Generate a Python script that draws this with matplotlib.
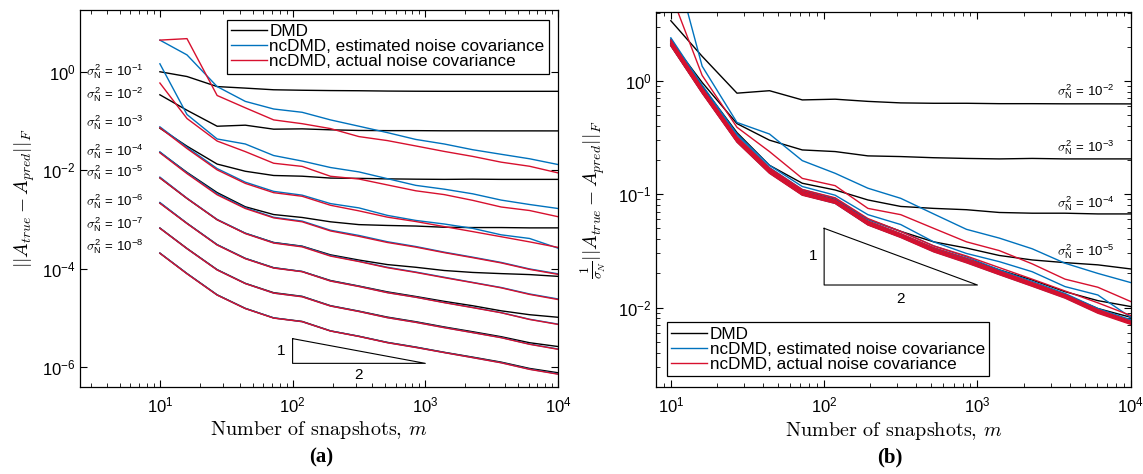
import numpy as np
import matplotlib
matplotlib.use('Agg')
import matplotlib.pyplot as plt
from matplotlib.ticker import NullLocator, LogLocator, NullFormatter

plt.rcParams['font.family'] = ['Liberation Sans', 'DejaVu Sans']
plt.rcParams['mathtext.fontset'] = 'cm'

# ---------------- data ----------------
snapshots = [10, 16, 27, 44, 72, 118, 193, 316, 518, 848, 1389, 2276, 3728, 6105, 10000]
noise_exponents = [-1, -2, -3, -4, -5, -6, -7, -8]   # sigma_N^2 = 10^k

# normalized errors  (1/sigma_N) ||A_true - A_pred||_F
dmd_1 = [3.16, 2.53, 1.58, 1.47, 1.36, 1.33, 1.31, 1.30, 1.28, 1.27, 1.265, 1.265, 1.265, 1.265, 1.265]
est_1 = [13.9, 6.96, 1.58, 0.79, 0.553, 0.474, 0.332, 0.247, 0.183, 0.133, 0.1075, 0.0822, 0.0664, 0.0538, 0.0411]
act_1 = [13.9, 14.9, 1.04, 0.585, 0.332, 0.278, 0.221, 0.152, 0.126, 0.098, 0.0759, 0.0601, 0.0459, 0.0379, 0.0278]

dmd_2 = [3.4, 1.65, 0.78, 0.82, 0.68, 0.69, 0.66, 0.64, 0.635, 0.635, 0.63, 0.63, 0.628, 0.628, 0.627]
est_2 = [14.5, 1.35, 0.43, 0.34, 0.198, 0.153, 0.113, 0.092, 0.067, 0.049, 0.041, 0.033, 0.0246, 0.020, 0.0166]
act_2 = [5.9, 1.12, 0.39, 0.238, 0.138, 0.119, 0.075, 0.066, 0.050, 0.038, 0.0318, 0.0243, 0.0178, 0.0151, 0.0113]

dmd_3 = [2.25, 0.97, 0.42, 0.30, 0.246, 0.238, 0.218, 0.215, 0.21, 0.207, 0.205, 0.207, 0.205, 0.205, 0.205]
est_3 = [2.4, 0.92, 0.34, 0.18, 0.117, 0.098, 0.066, 0.054, 0.038, 0.030, 0.0254, 0.0207, 0.0153, 0.0129, 0.0082]
act_3 = [2.3, 0.87, 0.32, 0.17, 0.11, 0.093, 0.061, 0.047, 0.035, 0.0285, 0.0225, 0.0178, 0.014, 0.011, 0.0085]

dmd_4 = [2.3, 0.9, 0.35, 0.18, 0.125, 0.109, 0.089, 0.078, 0.075, 0.073, 0.069, 0.068, 0.068, 0.067, 0.067]
est_4 = [2.35, 0.88, 0.33, 0.172, 0.11, 0.092, 0.06, 0.047, 0.035, 0.028, 0.0215, 0.017, 0.0133, 0.0098, 0.0078]
act_4 = [2.25, 0.85, 0.315, 0.166, 0.107, 0.089, 0.058, 0.045, 0.0338, 0.0272, 0.021, 0.0166, 0.013, 0.0096, 0.0076]

dmd_5 = [2.2, 0.84, 0.31, 0.165, 0.107, 0.09, 0.06, 0.047, 0.038, 0.0335, 0.0288, 0.0263, 0.0249, 0.0238, 0.0219]
est_5 = [2.28, 0.85, 0.315, 0.165, 0.106, 0.089, 0.058, 0.0445, 0.0335, 0.0268, 0.021, 0.0165, 0.013, 0.0096, 0.0076]
act_5 = [2.2, 0.84, 0.31, 0.162, 0.104, 0.087, 0.0565, 0.0438, 0.0328, 0.0263, 0.0206, 0.0163, 0.0128, 0.0094, 0.0074]

dmd_6 = [2.15, 0.83, 0.305, 0.161, 0.104, 0.087, 0.057, 0.044, 0.0335, 0.027, 0.0215, 0.0175, 0.0138, 0.0115, 0.0102]
est_6 = [2.2, 0.83, 0.305, 0.16, 0.103, 0.087, 0.056, 0.0435, 0.0325, 0.0262, 0.0204, 0.0162, 0.0127, 0.0093, 0.0074]
act_6 = [2.12, 0.82, 0.3, 0.158, 0.102, 0.086, 0.0555, 0.043, 0.0322, 0.026, 0.0202, 0.016, 0.0126, 0.0092, 0.0073]

dmd_7 = [2.1, 0.81, 0.3, 0.158, 0.102, 0.086, 0.0555, 0.043, 0.0325, 0.0262, 0.0205, 0.0164, 0.013, 0.0098, 0.0082]
est_7 = [2.1, 0.8, 0.298, 0.157, 0.1, 0.085, 0.0548, 0.0425, 0.0318, 0.0256, 0.02, 0.0158, 0.0125, 0.0092, 0.0073]
act_7 = [2.08, 0.8, 0.295, 0.156, 0.1, 0.084, 0.0545, 0.0422, 0.0316, 0.0254, 0.0198, 0.0157, 0.0124, 0.0091, 0.0072]

dmd_8 = [2.05, 0.79, 0.292, 0.155, 0.099, 0.084, 0.054, 0.042, 0.0315, 0.0253, 0.0198, 0.0158, 0.0125, 0.0093, 0.0076]
est_8 = [2.06, 0.79, 0.29, 0.154, 0.099, 0.083, 0.0538, 0.0418, 0.0312, 0.025, 0.0196, 0.0155, 0.0122, 0.009, 0.0072]
act_8 = [2.04, 0.78, 0.288, 0.153, 0.098, 0.083, 0.0535, 0.0415, 0.031, 0.0248, 0.0195, 0.0154, 0.0121, 0.0089, 0.0071]

dmd_all = [dmd_1, dmd_2, dmd_3, dmd_4, dmd_5, dmd_6, dmd_7, dmd_8]
est_all = [est_1, est_2, est_3, est_4, est_5, est_6, est_7, est_8]
act_all = [act_1, act_2, act_3, act_4, act_5, act_6, act_7, act_8]

legend_labels = ['DMD', 'ncDMD, estimated noise covariance', 'ncDMD, actual noise covariance']

# label anchor positions (annotation placement)
left_label_y = [1.0, 0.34, 0.092, 0.024, 0.0089, 2.3e-3, 7.9e-4, 2.8e-4]
right_label_exps = [-2, -3, -4, -5]
right_label_y = [0.80, 0.256, 0.082, 0.031]

C_DMD = 'black'
C_EST = '#0072BD'
C_ACT = '#D7102E'
LW = 1.0

fig = plt.figure(figsize=(11.43, 4.74), dpi=100)
axL = fig.add_axes([80/1143, 1-387/474, (558-80)/1143, (387-10)/474])
axR = fig.add_axes([656/1143, 1-386.7/474, (1130.7-656)/1143, (386.7-12)/474])

def lvl_label(k):
    return r'$\sigma^{\mathdefault{2}}_{\mathdefault{N}}$ = $\mathdefault{10^{%d}}$' % k

# ---------------- left panel ----------------
hL = []
for series, col in ((dmd_all, C_DMD), (est_all, C_EST), (act_all, C_ACT)):
    for k, vals in zip(noise_exponents, series):
        s = np.sqrt(10.0 ** k)
        ln, = axL.plot(snapshots, np.array(vals) * s, color=col, lw=LW)
    hL.append(ln)
axL.set_xscale('log')
axL.set_yscale('log')
axL.set_xlim(2.5, 1e4)
axL.set_ylim(3.9e-7, 18)
axL.set_yticks([1e-6, 1e-4, 1e-2, 1e0])
axL.yaxis.set_minor_locator(NullLocator())
axL.xaxis.set_minor_locator(LogLocator(base=10, subs=np.arange(2, 10), numticks=20))
axL.xaxis.set_minor_formatter(NullFormatter())
for k, yv in zip(noise_exponents, left_label_y):
    axL.text(7.45, yv, lvl_label(k), ha='right', va='center', fontsize=9.5)
# slope triangle
tri_x = [100, 100, 1000, 100]
tri_y = [3.75e-6, 1.18e-6, 1.18e-6, 3.75e-6]
axL.plot(tri_x, tri_y, color='black', lw=0.8)
axL.text(88, 2.1e-6, '1', ha='right', va='center', fontsize=11)
axL.text(316, 0.95e-6, '2', ha='center', va='top', fontsize=11)
axL.set_ylabel(r'$||A_{true} - A_{pred}||_F$', fontsize=14)
axL.yaxis.set_label_coords(-0.09, 0.5)
axL.set_xlabel('Number of snapshots, $m$', fontsize=14.5, fontfamily='cmr10')
axL.xaxis.set_label_coords(0.5, -0.086)
legL = axL.legend(hL, legend_labels, loc='upper right', bbox_to_anchor=(0.981, 0.973),
                  borderaxespad=0, fontsize=12.3, fancybox=False, edgecolor='black',
                  framealpha=1, labelspacing=0.0, handlelength=2.1, handletextpad=0.15,
                  borderpad=0.25)
legL.get_frame().set_linewidth(0.9)

# ---------------- right panel ----------------
hR = []
for series, col in ((dmd_all, C_DMD), (est_all, C_EST), (act_all, C_ACT)):
    for k, vals in zip(noise_exponents[1:], series[1:]):
        ln, = axR.plot(snapshots, vals, color=col, lw=LW)
    hR.append(ln)
axR.set_xscale('log')
axR.set_yscale('log')
axR.set_xlim(8.0, 1e4)
axR.set_ylim(0.002, 4.06)
axR.set_yticks([1e-2, 1e-1, 1e0])
axR.yaxis.set_minor_locator(LogLocator(base=10, subs=np.arange(2, 10), numticks=20))
axR.yaxis.set_minor_formatter(NullFormatter())
axR.xaxis.set_minor_locator(LogLocator(base=10, subs=np.arange(2, 10), numticks=20))
axR.xaxis.set_minor_formatter(NullFormatter())
for k, yv in zip(right_label_exps, right_label_y):
    axR.text(7800, yv, lvl_label(k), ha='right', va='center', fontsize=9.5)
triR_x = [100, 100, 1000, 100]
triR_y = [0.050, 0.0158, 0.0158, 0.050]
axR.plot(triR_x, triR_y, color='black', lw=0.8)
axR.text(91, 0.0285, '1', ha='right', va='center', fontsize=11)
axR.text(316, 0.0138, '2', ha='center', va='top', fontsize=11)
axR.set_ylabel(r'$\frac{1}{\sigma_N}||A_{true} - A_{pred}||_F$', fontsize=14)
axR.yaxis.set_label_coords(-0.101, 0.5)
axR.set_xlabel('Number of snapshots, $m$', fontsize=14.5, fontfamily='cmr10')
axR.xaxis.set_label_coords(0.5, -0.088)
legR = axR.legend(hR, legend_labels, loc='lower left', bbox_to_anchor=(0.023, 0.029),
                  borderaxespad=0, fontsize=12.3, fancybox=False, edgecolor='black',
                  framealpha=1, labelspacing=0.0, handlelength=2.1, handletextpad=0.15,
                  borderpad=0.25)
legR.get_frame().set_linewidth(0.9)

for ax in (axL, axR):
    ax.tick_params(which='both', direction='in', top=True, right=True, labelsize=12)
    ax.tick_params(which='major', length=5, width=0.8)
    ax.tick_params(which='minor', length=3, width=0.6)
    ax.tick_params(axis='y', pad=3)
    ax.tick_params(axis='x', pad=6)
    for sp in ax.spines.values():
        sp.set_linewidth(0.9)

fig.text(321/1143, 1-457/474, '(a)', ha='center', va='center', fontsize=15,
         fontweight='bold', fontfamily='Liberation Serif')
fig.text(890/1143, 1-457/474, '(b)', ha='center', va='center', fontsize=15,
         fontweight='bold', fontfamily='Liberation Serif')

fig.savefig('out.png', dpi=100)
